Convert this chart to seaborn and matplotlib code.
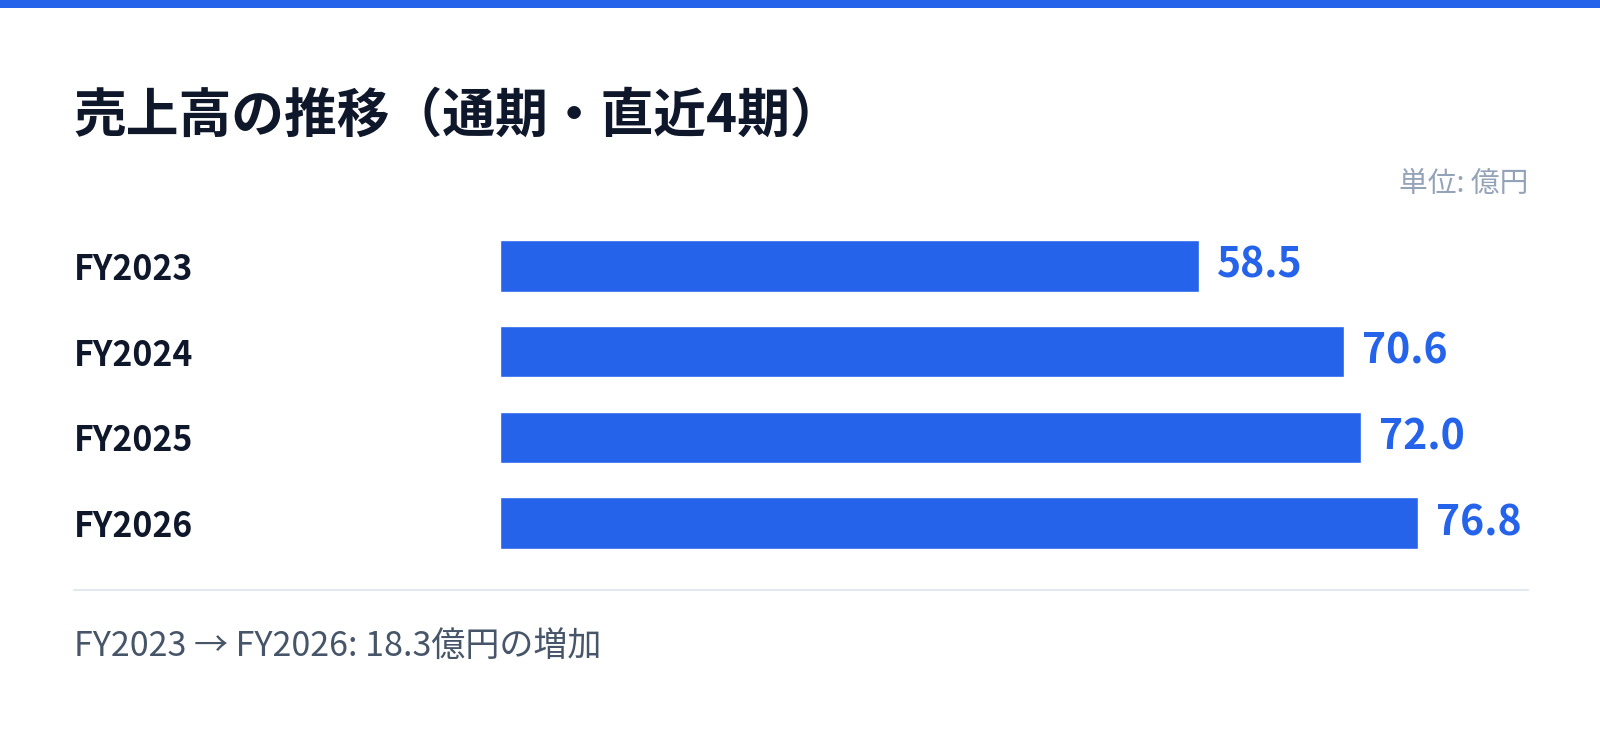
import matplotlib
matplotlib.use("Agg")
import matplotlib.pyplot as plt
import seaborn as sns
import pandas as pd
from matplotlib.lines import Line2D
from matplotlib.patches import Rectangle

# data
periods = ["FY2023", "FY2024", "FY2025", "FY2026"]
sales = [58.5, 70.6, 72.0, 76.8]

title = "売上高の推移（通期・直近4期）"
unit_label = "単位: 億円"
footer = "FY2023 → FY2026: 18.3億円の増加"

BLUE = "#2563eb"
DARK = "#0f172a"

sns.set_theme(style="white")
plt.rcParams["font.family"] = ["Noto Sans CJK JP", "DejaVu Sans"]

W, H = 1600, 733
fig = plt.figure(figsize=(W / 100, H / 100), dpi=100)
fig.patch.set_facecolor("white")

LEFT = 73.5
# plot area: x 500..1528 px, y 223..566 px
ax = fig.add_axes([500 / W, 1 - 566 / H, 1028 / W, 343 / H])

df = pd.DataFrame({"period": periods, "sales": sales})
sns.barplot(data=df, x="sales", y="period", orient="h", color=BLUE,
            width=0.6, saturation=1, ax=ax)

ax.set_xlim(0, 86.0)
ax.set_ylim(3.5, -0.5)
ax.set_xlabel("")
ax.set_ylabel("")
ax.set_xticks([])
sns.despine(ax=ax, left=True, bottom=True)

ax.tick_params(axis="y", length=0, pad=(500 - LEFT) * 0.72)
for lab in ax.get_yticklabels():
    lab.set_ha("left")
    lab.set_fontsize(24.3)
    lab.set_fontweight("bold")
    lab.set_color(DARK)

ax.bar_label(ax.containers[0], labels=[f"{v:.1f}" for v in sales],
             padding=13, fontsize=29.5, fontweight="bold", color=BLUE)

# decorations
fig.add_artist(Rectangle((0, 1 - 8 / H), 1, 8 / H, transform=fig.transFigure,
                         color=BLUE, lw=0))
fig.text(LEFT / W, 1 - 116 / H, title, fontsize=38, fontweight="bold",
         color=DARK, va="center", ha="left")
fig.text(1528 / W, 1 - 184 / H, unit_label, fontsize=20.7, color="#94a3b8",
         va="center", ha="right")
fig.add_artist(Line2D([LEFT / W, 1528 / W], [1 - 590 / H] * 2,
                      transform=fig.transFigure, color="#e2e8f0", lw=1.5))
fig.text(LEFT / W, 1 - 646 / H, footer, fontsize=24.5, color="#475569",
         va="center", ha="left")

fig.savefig("out.png", dpi=100, facecolor="white")
